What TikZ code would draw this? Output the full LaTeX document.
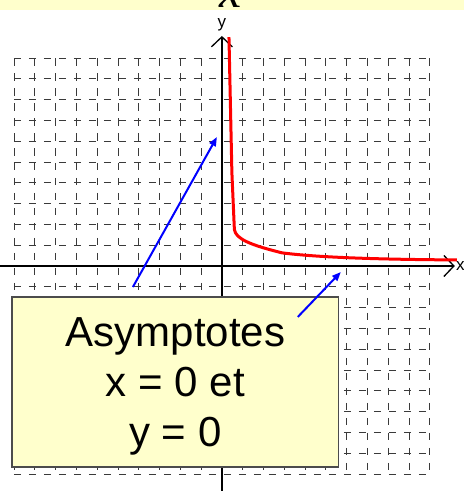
\documentclass[tikz,border=0pt]{standalone}
\usepackage{fontspec}
\setmainfont{Liberation Sans}
\newfontfamily\timesfont{Liberation Serif}
\usetikzlibrary{positioning,arrows.meta}
\definecolor{NotePale}{HTML}{FFFFCC}
\definecolor{GridGray}{HTML}{3A3A3A}

\begin{document}
\begin{tikzpicture}[x=20.8pt,y=20.8pt,node distance=1pt]
  \tikzstyle{gridline}=[draw=GridGray,line width=0.8pt,dash pattern=on 7.5pt off 7.5pt]
  \tikzstyle{axis}=[line width=1.3pt,-{Straight Barb[length=10pt,width=21pt]}]
  \tikzstyle{axislabel}=[inner sep=0pt,font=\fontsize{17}{17}\selectfont]
  \tikzstyle{pointer}=[draw=blue,line width=2pt,-{Triangle[length=9pt,width=7pt]}]
  \tikzstyle{note}=[draw=black!70,line width=1.2pt,fill=NotePale,
    minimum width=327pt,minimum height=170pt,align=center,text depth=0pt,
    font=\fontsize{42}{50}\selectfont]
  \useasboundingbox (-10.67,-10.82) rectangle (11.63,12.79);
  \clip (-10.67,-10.82) rectangle (11.63,12.79);
  % band of the slide above
  \fill[NotePale] (-10.67,12.31) rectangle (11.63,12.79);
  \node[inner sep=0pt,font=\timesfont\itshape\fontsize{50}{50}\selectfont,anchor=base] (denom) at (0.4,12.42) {x};
  % grid
  \foreach \i in {-10,...,10} {
    \draw[gridline] (\i,10) -- (\i,-10);
    \draw[gridline] (-10,\i) -- (10,\i);
  }
  % axes
  \coordinate (xtip) at (11.2,0);
  \coordinate (ytip) at (0,11.06);
  \draw[axis] (-10.67,0) -- (xtip);
  \draw[axis] (0,-10.82) -- (ytip);
  \node[axislabel,right=1pt of xtip] (xlab) {x};
  \node[axislabel,above=5pt of ytip] (ylab) {y};
  % curve
  \draw[red,line width=3pt,line join=round] (0.34,11.0) -- (0.48,4.5) -- (0.6,1.75)
    .. controls (0.66,1.3) and (1.4,1.0) .. (2.9,0.63)
    .. controls (4.5,0.43) and (7,0.32) .. (11.3,0.29);
  % note and pointers
  \node[note] (note) at (-2.236,-5.577) {Asymptotes\\x = 0 et\\y = 0};
  \coordinate (p1) at (-4.28,-1.01);
  \coordinate (q1) at (-0.24,6.2);
  \coordinate (p2) at (3.65,-2.45);
  \coordinate (q2) at (5.72,-0.29);
  \draw[pointer] (p1) -- (q1);
  \draw[pointer] (p2) -- (q2);
\end{tikzpicture}
\end{document}
